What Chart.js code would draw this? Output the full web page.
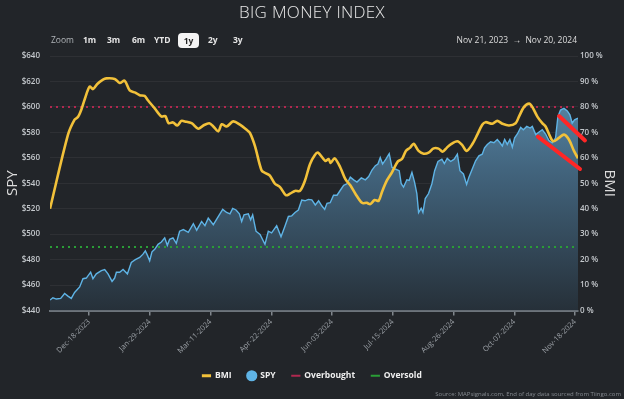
<!DOCTYPE html>
<html>
<head>
<meta charset="utf-8">
<script src="https://cdn.jsdelivr.net/npm/chart.js@4.4.1/dist/chart.umd.min.js"></script>
<style>
html, body { margin: 0; padding: 0; background: #222529; }
#wrap { position: relative; width: 624px; height: 399px; overflow: hidden; font-family: "Open Sans", sans-serif; }
#bmiChart { position: absolute; left: 0; top: 0; }
.hd { position: absolute; white-space: nowrap; line-height: 1; }
.title { left: 0; width: 624px; top: 3px; text-align: center; color: #e8e8e8; font-size: 17px; font-weight: 300; letter-spacing: 0.3px; }
.btn { top: 36px; font-size: 8.5px; font-weight: 700; color: #e6e6e6; }
.zl { top: 36px; font-size: 8.5px; color: #b0b4b8; }
.sel { top: 33px; left: 178px; width: 21px; height: 15px; border-radius: 4px; background: #f4f4f4; color: #222; font-size: 8.5px; font-weight: 700; text-align: center; line-height: 15px; }
.range { top: 36px; right: 47px; font-size: 8.5px; color: #dcdcdc; }
.src { right: 3px; bottom: 2px; font-size: 6px; color: #858a90; }
</style>
</head>
<body>
<div id="wrap">
  <canvas id="bmiChart" width="624" height="399"></canvas>
  <div class="hd title">BIG MONEY INDEX</div>
  <div class="hd zl" style="left:51px">Zoom</div>
  <div class="hd btn" style="left:83px">1m</div>
  <div class="hd btn" style="left:107px">3m</div>
  <div class="hd btn" style="left:132px">6m</div>
  <div class="hd btn" style="left:154px">YTD</div>
  <div class="hd sel">1y</div>
  <div class="hd btn" style="left:208px">2y</div>
  <div class="hd btn" style="left:233px">3y</div>
  <div class="hd range">Nov 21, 2023 &nbsp;→&nbsp; Nov 20, 2024</div>
  <div class="hd src">Source: MAPsignals.com, End of day data sourced from Tiingo.com</div>
</div>
<script>
// x values are days since Nov 21, 2023
const tickDays = [27, 69, 111, 153, 195, 237, 279, 321, 363];
const tickLabels = ['Dec-18-2023', 'Jan-29-2024', 'Mar-11-2024', 'Apr-22-2024', 'Jun-03-2024',
    'Jul-15-2024', 'Aug-26-2024', 'Oct-07-2024', 'Nov-18-2024'];

const bmiDays = [0, 12.4, 17, 19.3, 21.7, 24, 27.4, 29.7, 32.7, 36.6, 38.9, 44.7, 48.2, 51.6, 55.1, 59, 62, 65.4,
    67.7, 72.4, 77, 79.7, 82, 85, 88, 90.8, 93.3, 97.9, 102.5, 106, 110.1, 112.9, 116.4, 118.7, 122.1, 126.7,
    131.3, 135.9, 138.2, 141.7, 146.3, 149.3, 152, 155.5, 159, 163.1, 165.9, 169.4, 172.8, 176.3, 179.7, 183,
    185.3, 190.3, 192.6, 194, 196.8, 200.7, 204.1, 207.6, 211.1, 215.7, 219.1, 221.4, 224.4, 227.2, 229.5,
    232.9, 236.4, 240.5, 243.3, 246, 249, 251.4, 254.8, 258.3, 261.7, 265.2, 268.6, 271.4, 274.4, 277, 281.6,
    285, 288, 291.9, 295.4, 298.8, 301.1, 305.8, 309.2, 312.7, 317.3, 321.9, 324.2, 327.7, 331.2, 333.4,
    336.9, 340.3, 342.6, 345.6, 347.9, 351.8, 355.3, 358.7, 362.2, 365];
const bmiValues = [40, 69, 75, 76, 79, 83, 88, 87, 89, 90.7, 91.2, 91, 89.4, 90.3, 86.5, 85.6, 84.6, 84.3,
    82.6, 79.4, 76.2, 76.4, 73.6, 73.9, 72.7, 74.5, 74.3, 73.6, 71.4, 72.7, 73.6, 72.3, 70.4, 73.2, 72.3, 74.3,
    73, 71, 69.8, 64.6, 55, 53.9, 53, 49.8, 48.5, 45.3, 45.9, 47, 47, 51.1, 57.5, 61,
    62, 58.8, 59.5, 58, 59.8, 56.2, 51.7, 49.2, 45.9, 42.3, 42.3, 41.8, 43.4, 43.1, 46.6,
    51.1, 54.3, 58.6, 59.5, 62.7, 64, 65.5, 62.7, 61.6, 62, 63.7, 63.6, 62.4, 64, 65.3, 66.5,
    65, 62.7, 65.3, 69.1, 73, 74, 73.4, 74.5, 73.4, 72.7, 73.6, 76.2, 80, 81.3, 80,
    76.2, 73.6, 72.3, 68.5, 66.5, 67.8, 69.1, 67.2, 62.7, 59.8];

const spyDays = [0, 2, 4.4, 7.4, 10.1, 12.4, 14.7, 17, 20.5, 22.8, 25.1, 28.1, 29.7, 32, 35.5, 37.8, 40.1, 42.9,
    44.7, 45.9, 48.2, 50.5, 53.5, 56.2, 59, 62, 64.3, 65.9, 67.3, 68.9, 70.5, 72.4, 74.7, 77, 79.3, 81.1, 82.7,
    85, 87.3, 89.6, 92.2, 95.6, 99.1, 101.4, 104.8, 107.1, 109.4, 112.9, 116.4, 119.4, 122.1, 124.4, 126.3,
    128.6, 130.9, 132.5, 134.1, 137.1, 138.7, 140.1, 142.4, 145.2, 148.6, 150.9, 153.2, 156.7, 159.7, 162.4,
    164.8, 167.1, 169.4, 171.7, 174, 176.3, 178.6, 181, 183.4, 185.7, 188, 189.9, 191.5, 193.7, 196, 198.4,
    200.7, 203, 205.3, 207.6, 209.9, 212.2, 215.2, 218, 220.3, 222.6, 224.9, 226.7, 228.3, 229.9, 232.2,
    234.5, 236.4, 238.6, 241.4, 242.8, 244.4, 246.7, 248.3, 250.2, 252, 253.6, 254.8, 256.6, 257.8, 259.4,
    261.7, 264, 265.9, 268.2, 270.9, 272.6, 274.6, 277, 279.4, 281.6, 283.4, 285.8, 288, 289.6, 291.9, 294.2,
    296.5, 298.8, 300.4, 302.3, 304.6, 306.9, 309.2, 311.1, 312.7, 314.3, 316.1, 317.9, 319.6, 321.2, 323.1,
    325.4, 327.2, 329.6, 331.9, 333.4, 335.8, 338.1, 340.3, 342.6, 344.9, 347.2, 349.5, 351.1, 352.9, 355.3,
    357.6, 359.4, 361, 362.6, 365];
const spyValues = [448.2, 450, 449, 449.5, 453.4, 451.3, 449.5, 454.2, 458.5, 465, 465.5, 470.1, 465, 468.8,
    471.4, 472.2, 468.8, 462.9, 465.5, 470.1, 470.1, 472.2, 468.8, 477.8, 479.9, 481.7, 484.3, 486.8, 483.5,
    479.1, 486.1, 488.1, 492, 493.8, 497.1, 491.2, 495.9, 497.1, 492.8, 502.3, 503.6, 501.5, 508.2, 503.1, 510,
    506.7, 512.6, 507.4, 513.9, 519.5, 517, 515.9, 520.3, 519, 515.9, 510, 515.2, 515.9, 511.3, 515.2, 502.3,
    499.7, 492, 502.3, 501, 506.7, 497.9, 506.2, 513.9, 514.4, 517, 519, 526.7, 526.2, 527.3, 527, 522.9,
    526.2, 522.1, 519.5, 524.2, 524.7, 530.6, 530.6, 534.5, 538.3, 539.6, 544.8, 542.7, 540.9, 544.2, 542.7,
    545.3, 550.4, 553.8, 555.1, 560.2, 555.1, 558.9, 563.3, 552.5, 551.2, 549.9, 539.6, 537, 542.7, 542.2,
    548.6, 540.9, 531.9, 517, 520.3, 517, 528, 531.9, 539.6, 549.9, 557.1, 558.9, 555.5, 559.5, 557.1, 558.9,
    562.8, 549.9, 547.3, 539.1, 544.8, 551.2, 557.6, 561.5, 562.8, 567.9, 570.5, 572.6, 571.8, 574.4, 571.8,
    569.2, 574.4, 570.5, 574.4, 568.4, 575.7, 578.7, 583.9, 582.1, 584.7, 583.4, 584.7, 578.2, 580.3, 582.1,
    578.7, 573.6, 571.8, 575.7, 592.4, 597.5, 598.8, 596.8, 593.7, 587.2, 589.8, 591.1];

const overbought = 80;
const oversold = 25;

// red trend marks drawn over the chart (BMI scale)
const trendUpperDays = [351.9, 369.8];
const trendUpperValues = [76.4, 66.8];
const trendLowerDays = [337.3, 366.4];
const trendLowerValues = [68.3, 55.6];

const toPoints = (xs, ys) => xs.map((x, i) => ({ x: x, y: ys[i] }));

const legendNames = ['BMI', 'SPY', 'Overbought', 'Oversold'];
const legendColors = ['#f2c13a', '#5fb4e6', '#b0284f', '#2a9e36'];

document.addEventListener('DOMContentLoaded', () => {
    const ctx = document.getElementById('bmiChart');
    if (!ctx) return;

    const spyFill = (c) => {
        const area = c.chart.chartArea;
        if (!area) return 'rgba(70,110,140,0.8)';
        const g = c.chart.ctx.createLinearGradient(0, area.top, 0, area.bottom);
        g.addColorStop(0, 'rgb(96,150,184)');
        g.addColorStop(0.45, 'rgb(66,100,125)');
        g.addColorStop(1, 'rgb(38,48,57)');
        return g;
    };

    new Chart(ctx, {
        type: 'line',
        data: {
            datasets: [{
                label: 'BMI',
                data: toPoints(bmiDays, bmiValues),
                yAxisID: 'bmi',
                borderColor: '#f2c13a',
                borderWidth: 2.6,
                pointRadius: 0,
                tension: 0.3,
                order: 1
            }, {
                label: 'SPY',
                data: toPoints(spyDays, spyValues),
                yAxisID: 'spy',
                borderColor: '#5fb4e6',
                borderWidth: 1.4,
                backgroundColor: spyFill,
                fill: 'start',
                pointRadius: 0,
                tension: 0,
                order: 3
            }, {
                label: 'Overbought',
                data: toPoints([0, 365], [overbought, overbought]),
                yAxisID: 'bmi',
                borderColor: '#b0284f',
                borderWidth: 2,
                borderDash: [2, 4],
                pointRadius: 0,
                order: 2
            }, {
                label: 'Oversold',
                data: toPoints([0, 365], [oversold, oversold]),
                yAxisID: 'bmi',
                borderColor: '#2a9e36',
                borderWidth: 2,
                borderDash: [2, 4],
                pointRadius: 0,
                order: 2
            }, {
                label: 'trend1',
                data: toPoints(trendUpperDays, trendUpperValues),
                yAxisID: 'bmi',
                borderColor: '#ff2626',
                borderWidth: 4,
                borderCapStyle: 'round',
                pointRadius: 0,
                clip: false,
                order: 0
            }, {
                label: 'trend2',
                data: toPoints(trendLowerDays, trendLowerValues),
                yAxisID: 'bmi',
                borderColor: '#ff2626',
                borderWidth: 4,
                borderCapStyle: 'round',
                pointRadius: 0,
                clip: false,
                order: 0
            }]
        },
        options: {
            responsive: false,
            animation: false,
            layout: { padding: { top: 56, bottom: 9, left: 0, right: 0 } },
            scales: {
                x: {
                    type: 'linear',
                    position: 'bottom',
                    min: 0,
                    max: 365,
                    afterBuildTicks: (s) => { s.ticks = tickDays.map(v => ({ value: v })); },
                    afterFit: (s) => { s.height = 45; },
                    ticks: {
                        autoSkip: false,
                        minRotation: 45,
                        maxRotation: 45,
                        padding: 2,
                        color: '#9ba0a6',
                        font: { family: 'Open Sans', size: 7.5 },
                        callback: (v) => {
                            const i = tickDays.indexOf(v);
                            return i < 0 ? '' : tickLabels[i];
                        }
                    },
                    grid: { drawOnChartArea: false, drawTicks: true, tickLength: 5, color: '#80868c', lineWidth: 1.5 },
                    border: { display: true, color: '#6d747b', width: 2 }
                },
                spy: {
                    position: 'left',
                    min: 440,
                    max: 640,
                    afterFit: (s) => { s.width = 50; },
                    ticks: {
                        stepSize: 20,
                        padding: 10,
                        color: '#c4c8cc',
                        font: { family: 'Open Sans', size: 8, weight: '600' },
                        callback: (v) => '$' + v
                    },
                    grid: { color: 'rgba(255,255,255,0.055)', drawTicks: false },
                    border: { display: false },
                    title: { display: true, text: 'SPY', color: '#dcdcdc', font: { family: 'Open Sans', size: 15 } }
                },
                bmi: {
                    position: 'right',
                    min: 0,
                    max: 100,
                    afterFit: (s) => { s.width = 46; },
                    ticks: {
                        stepSize: 10,
                        padding: 2,
                        crossAlign: 'near',
                        color: '#c4c8cc',
                        font: { family: 'Open Sans', size: 8, weight: '600' },
                        callback: (v) => v + ' %'
                    },
                    grid: { display: false, drawTicks: false },
                    border: { display: false },
                    title: { display: true, text: 'BMI', color: '#dcdcdc', padding: { top: 6, bottom: 4 },
                        font: { family: 'Open Sans', size: 15 } }
                }
            },
            plugins: {
                tooltip: { enabled: false },
                legend: {
                    position: 'bottom',
                    labels: {
                        usePointStyle: true,
                        boxHeight: 6.5,
                        padding: 16,
                        color: '#f0f0f0',
                        font: { family: 'Open Sans', size: 8.5, weight: 'bold' },
                        generateLabels: () => legendNames.map((name, i) => ({
                            text: name,
                            fillStyle: legendColors[i],
                            strokeStyle: legendColors[i],
                            fontColor: '#f0f0f0',
                            lineWidth: i === 0 ? 3 : 2,
                            pointStyle: i === 1 ? 'circle' : 'line',
                            hidden: false,
                            datasetIndex: i
                        }))
                    }
                }
            }
        }
    });
});
</script>
</body>
</html>
